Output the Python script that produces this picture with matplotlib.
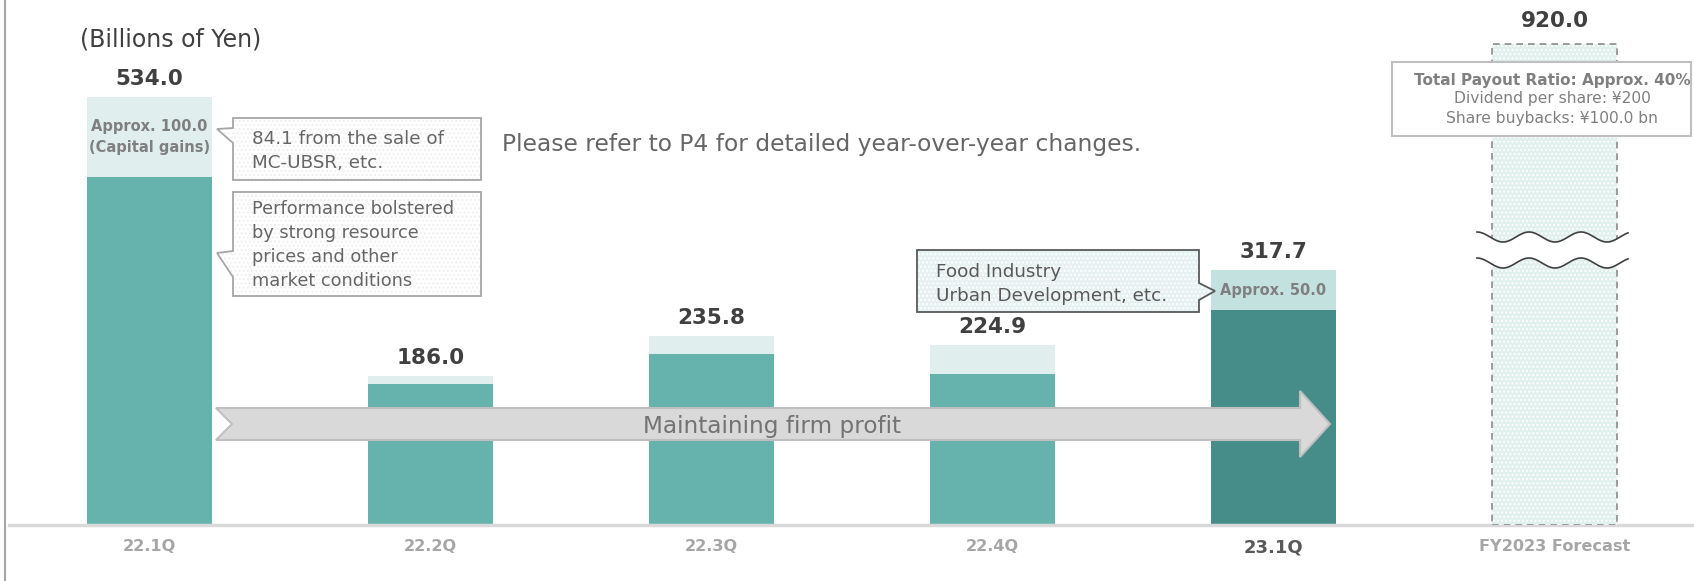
import numpy as np
import matplotlib.pyplot as plt
from matplotlib.patches import Polygon, Rectangle
from matplotlib.lines import Line2D

# datos
periodos = ['22.1Q', '22.2Q', '22.3Q', '22.4Q', '23.1Q', 'FY2023 Forecast']
totales = [534.0, 186.0, 235.8, 224.9, 317.7]
extraordinarios = [100.0, 10.0, 22.0, 36.0, 50.0]
pronostico = 920.0

base = [t - e for t, e in zip(totales, extraordinarios)]
x = np.arange(len(periodos))

W, H = 1694, 581
fig = plt.figure(figsize=(W / 100, H / 100), dpi=100)
ax = fig.add_axes([9 / W, 56 / H, 1686 / W, 497 / H])
ax.set_xlim(-0.5, 5.5)
ax.set_ylim(0, 620)

teal = '#66b3ae'
teal_osc = '#468c88'
claro = '#e0efed'
claro2 = '#c3e1de'

ancho = 0.445
ax.bar(x[:5], base, width=ancho, color=[teal] * 4 + [teal_osc], zorder=2)
ax.bar(x[:5], extraordinarios, bottom=base, width=ancho,
       color=[claro] * 4 + [claro2], zorder=2)

# barra del pronostico en su propia escala (eje cortado)
ax2 = ax.twinx()
ax2.set_ylim(0, pronostico * 620 / 600)
ax2.bar(x[5], pronostico, width=ancho, color='#dff0ed', edgecolor='white',
        hatch='....', linewidth=0, zorder=2)
ax2.bar(x[5], pronostico, width=ancho, fill=False, edgecolor='#8c8c8c',
        linestyle=(0, (4, 3)), linewidth=1.2, zorder=3)
ax2.axis('off')

# etiquetas de valor
for xi, t in zip(x[:5], totales):
    ax.annotate(f'{t:.1f}', (xi, t), xytext=(0, 13), textcoords='offset points',
                ha='center', va='center', fontsize=15.5, fontweight='bold', color='#404040')
ax2.annotate(f'{pronostico:.1f}', (x[5], pronostico), xytext=(0, 16.5),
             textcoords='offset points', ha='center', va='center',
             fontsize=15.5, fontweight='bold', color='#404040')

ax.text(x[0], base[0] + extraordinarios[0] / 2, 'Approx. 100.0\n(Capital gains)',
        ha='center', va='center', fontsize=10.5, fontweight='bold', color='#7f7f7f',
        linespacing=1.45, zorder=4)
ax.text(x[4], base[4] + extraordinarios[4] / 2, 'Approx. 50.0',
        ha='center', va='center', fontsize=10.5, fontweight='bold', color='#7f7f7f', zorder=4)

ax.set_xticks(x, periodos)
ax.tick_params(axis='x', length=0, pad=10)
for i, lab in enumerate(ax.get_xticklabels()):
    lab.set_fontweight('bold')
    if i == 4:
        lab.set_fontsize(13)
        lab.set_color('#595959')
    else:
        lab.set_fontsize(11.6)
        lab.set_color('#a6a6a6')
ax.set_yticks([])
for s in ['top', 'right', 'left']:
    ax.spines[s].set_visible(False)
ax.spines['bottom'].set_color('#d9d9d9')
ax.spines['bottom'].set_linewidth(2.5)

# capa de anotaciones en pixeles
ov = fig.add_axes([0, 0, 1, 1], zorder=5)
ov.set_xlim(0, W)
ov.set_ylim(H, 0)
ov.axis('off')
ov.patch.set_alpha(0)

fig.add_artist(Line2D([5 / W, 5 / W], [0, 1], color='#a6a6a6', lw=1.5))

ov.text(80, 40, '(Billions of Yen)', fontsize=17, color='#404040', va='center')
ov.text(502, 144, 'Please refer to P4 for detailed year-over-year changes.',
        fontsize=16.8, color='#666666', va='center')

# flecha
flecha = [(216, 408), (1300, 408), (1300, 391), (1330, 424), (1300, 457),
          (1300, 440), (216, 440), (232, 424)]
ov.add_patch(Polygon(flecha, closed=True, facecolor='#d9d9d9', edgecolor='#bfbfbf', lw=1.5))
ov.text(772, 426, 'Maintaining firm profit', fontsize=16.7, color='#737373',
        ha='center', va='center')


def globo(puntos, cara, borde, trama):
    ov.add_patch(Polygon(puntos, closed=True, facecolor=cara, edgecolor=trama,
                         hatch='....', lw=0))
    ov.add_patch(Polygon(puntos, closed=True, fill=False, edgecolor=borde, lw=1.3))


globo([(233, 118), (481, 118), (481, 180), (233, 180), (233, 143), (217, 129), (233, 128)],
      'white', '#a6a6a6', '#f0f0f0')
ov.text(252, 151, '84.1 from the sale of\nMC-UBSR, etc.', fontsize=13.2,
        color='#666666', va='center', linespacing=1.4)

globo([(233, 192), (481, 192), (481, 296), (233, 296), (233, 277), (217, 253), (233, 251)],
      'white', '#a6a6a6', '#f0f0f0')
ov.text(252, 245, 'Performance bolstered\nby strong resource\nprices and other\nmarket conditions',
        fontsize=12.8, color='#666666', va='center', linespacing=1.42)

globo([(917, 250), (1199, 250), (1199, 283), (1215, 291), (1199, 300), (1199, 312), (917, 312)],
      '#e6f2f1', '#595959', 'white')
ov.text(936, 284, 'Food Industry\nUrban Development, etc.', fontsize=13.2,
        color='#595959', va='center', linespacing=1.4)

ov.add_patch(Rectangle((1392, 62), 299, 74, facecolor='white', edgecolor='#bfbfbf', lw=1.5))
ov.text(1552, 80, 'Total Payout Ratio: Approx. 40%', fontsize=11, fontweight='bold',
        color='#808080', ha='center', va='center')
ov.text(1552, 99, 'Dividend per share: ¥200', fontsize=11.2, color='#808080',
        ha='center', va='center')
ov.text(1552, 118, 'Share buybacks: ¥100.0 bn', fontsize=11.2, color='#808080',
        ha='center', va='center')

# marca de corte
xs = np.linspace(1477, 1628, 200)
ola = 5 * np.cos(2 * np.pi * (xs - 1477) / 52)
ov.fill_between(xs, 237 - ola, 263 - ola, color='white', lw=0)
ov.plot(xs, 237 - ola, color='#404040', lw=1.2)
ov.plot(xs, 263 - ola, color='#404040', lw=1.2)

fig.savefig('out.png', dpi=100)
